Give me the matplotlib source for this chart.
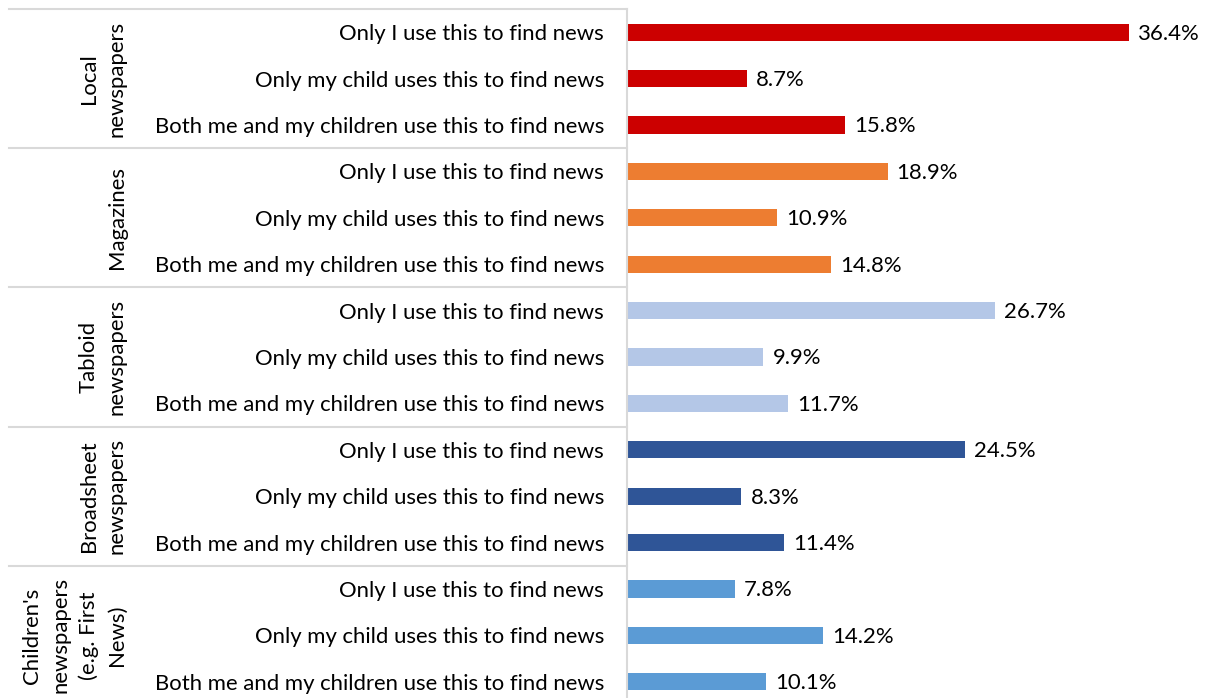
import matplotlib
matplotlib.use('Agg')
from matplotlib import pyplot as plt
from matplotlib.transforms import blended_transform_factory

groups = ['Local\nnewspapers', 'Magazines', 'Tabloid\nnewspapers',
          'Broadsheet\nnewspapers', "Children's\nnewspapers\n(e.g. First\nNews)"]
answers = ['Only I use this to find news',
           'Only my child uses this to find news',
           'Both me and my children use this to find news']
local = [36.4, 8.7, 15.8]
magazines = [18.9, 10.9, 14.8]
tabloid = [26.7, 9.9, 11.7]
broadsheet = [24.5, 8.3, 11.4]
childrens = [7.8, 14.2, 10.1]
colors = ['#CC0000', '#ED7D31', '#B4C7E7', '#2F5597', '#5B9BD5']

plt.rcParams['font.family'] = ['Lato', 'DejaVu Sans']
fs = 15.9

fig = plt.figure(figsize=(12.06, 6.98), dpi=100)
ax = fig.add_axes([627/1206, -7/698, 1 - 627/1206, 696/698])

series = [local, magazines, tabloid, broadsheet, childrens]
ylabels = []
pos = 0
for vals, c in zip(series, colors):
    ys = [pos + i for i in range(len(vals))]
    ax.barh(ys, vals, height=0.37, color=c)
    for y, v in zip(ys, vals):
        ax.annotate('%.1f%%' % v, (v, y), xytext=(6.5, -1), textcoords='offset points',
                    va='center', ha='left', fontsize=fs, color='#000000')
    ylabels += answers
    pos += len(vals)

ax.set_ylim(pos - 0.5, -0.5)
ax.set_xlim(0, 577 / (500 / 36.4))
ax.set_yticks(range(pos))
ax.set_yticklabels(ylabels, fontsize=fs)
ax.tick_params(axis='y', length=0, pad=16.5)
ax.set_xticks([])
for s in ['top', 'right', 'bottom']:
    ax.spines[s].set_visible(False)
ax.spines['left'].set_color('#D9D9D9')
ax.spines['left'].set_linewidth(1.5)

tr = blended_transform_factory(fig.transFigure, ax.transData)
for yb in [-0.5, 2.5, 5.5, 8.5, 11.5]:
    ax.plot([9/1206, 627/1206], [yb, yb], transform=tr, color='#D9D9D9',
            lw=1.5, clip_on=False)
for g, name in enumerate(groups):
    ax.text(127/1206, g * 3 + 1, name, transform=tr, rotation=90, ha='right',
            va='center', multialignment='center', fontsize=fs, linespacing=1.5)

fig.savefig('out.png', dpi=100)
